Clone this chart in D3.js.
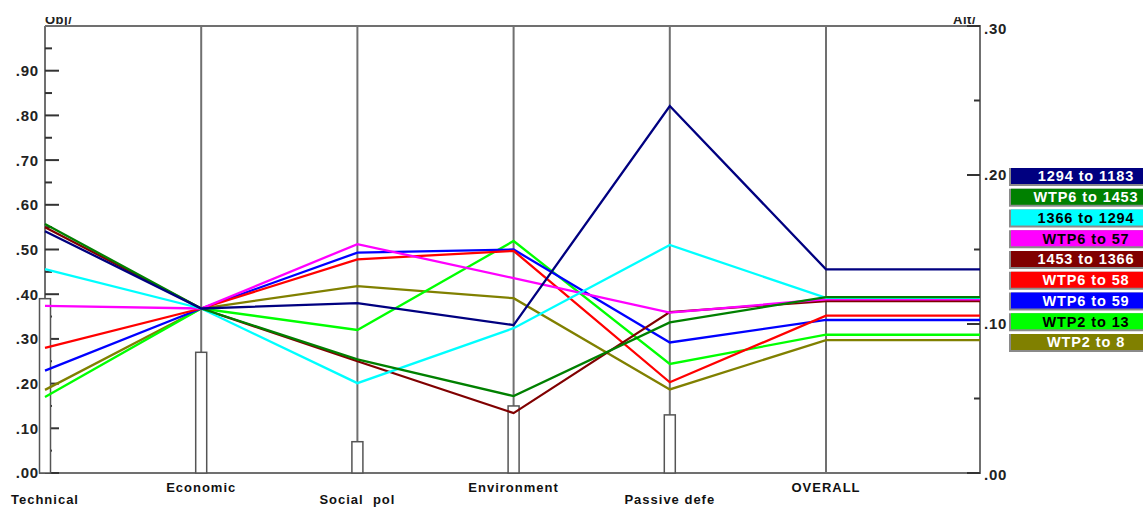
<!DOCTYPE html>
<html>
<head>
<meta charset="utf-8">
<script src="https://cdn.jsdelivr.net/npm/d3@7"></script>
<style>
  html, body { margin: 0; padding: 0; background: #fff; }
  svg { display: block; }
  text { font-family: "Liberation Sans", Arial, sans-serif; font-weight: bold; }
</style>
</head>
<body>
<svg id="chart" width="1143" height="507"></svg>
<script>
// ---- Data ----
const categories = ["Technical", "Economic", "Social  pol", "Environment", "Passive defe", "OVERALL"];
const weights = [0.39, 0.27, 0.07, 0.15, 0.13];           // bar heights on left axis
const seriesNames = ["1294 to 1183", "WTP6 to 1453", "1366 to 1294", "WTP6 to 57", "1453 to 1366",
                     "WTP6 to 58", "WTP6 to 59", "WTP2 to 13", "WTP2 to 8"];
const seriesColors = ["#000080", "#008000", "#00ffff", "#ff00ff", "#800000",
                      "#ff0000", "#0000ff", "#00ff00", "#808000"];
const legendTextColors = ["#fff", "#fff", "#000", "#000", "#fff", "#fff", "#fff", "#000", "#fff"];
// values on each criterion (left axis, 0-1)
const v1294_1183 = [0.541, 0.368, 0.380, 0.331, 0.821];
const vWTP6_1453 = [0.557, 0.368, 0.254, 0.172, 0.337];
const v1366_1294 = [0.456, 0.368, 0.201, 0.324, 0.510];
const vWTP6_57   = [0.374, 0.368, 0.512, 0.436, 0.359];
const v1453_1366 = [0.550, 0.368, 0.250, 0.134, 0.360];
const vWTP6_58   = [0.280, 0.368, 0.478, 0.497, 0.203];
const vWTP6_59   = [0.229, 0.368, 0.493, 0.500, 0.292];
const vWTP2_13   = [0.170, 0.368, 0.320, 0.519, 0.244];
const vWTP2_8    = [0.186, 0.368, 0.418, 0.391, 0.187];
// overall values (right axis, 0-0.30)
const overall = [0.1367, 0.1181, 0.1176, 0.1166, 0.1154, 0.1056, 0.1027, 0.0928, 0.0892];
const leftTicks = [0.00, 0.10, 0.20, 0.30, 0.40, 0.50, 0.60, 0.70, 0.80, 0.90];
const leftMinor = [0.05, 0.15, 0.25, 0.35, 0.45, 0.55, 0.65, 0.75, 0.85, 0.95];
const rightTicks = [0.00, 0.10, 0.20, 0.30];
const rightMinor = [0.05, 0.15, 0.25];

const seriesValues = [v1294_1183, vWTP6_1453, v1366_1294, vWTP6_57, v1453_1366,
                      vWTP6_58, vWTP6_59, vWTP2_13, vWTP2_8];

// ---- Layout ----
const svg = d3.select("#chart");
const yTop = 26, yBottom = 473, xLeft = 45, xRight = 980;
const axisColor = "#707070";

const x = d3.scalePoint().domain(categories).range([45, 826]);
const yL = d3.scaleLinear().domain([0, 1]).range([yBottom, yTop]);
const yR = d3.scaleLinear().domain([0, 0.30]).range([yBottom, yTop]);

const fmt = v => d3.format(".2f")(v).replace(/^0/, "");

// frame lines
svg.append("line").attr("x1", xLeft).attr("x2", xRight).attr("y1", yTop).attr("y2", yTop)
  .attr("stroke", axisColor).attr("stroke-width", 2);
svg.append("line").attr("x1", 39).attr("x2", xRight + 1).attr("y1", yBottom).attr("y2", yBottom)
  .attr("stroke", axisColor).attr("stroke-width", 2);

// category vertical axes
svg.selectAll("line.cat").data(categories).join("line").attr("class", "cat")
  .attr("x1", d => x(d)).attr("x2", d => x(d)).attr("y1", yTop).attr("y2", yBottom)
  .attr("stroke", axisColor).attr("stroke-width", 2);
// right axis
svg.append("line").attr("x1", xRight).attr("x2", xRight).attr("y1", yTop - 1).attr("y2", yBottom + 1)
  .attr("stroke", axisColor).attr("stroke-width", 2);

// left axis ticks
const gL = svg.append("g").attr("transform", `translate(${xLeft},0)`);
gL.selectAll("line.maj").data(leftTicks).join("line").attr("class", "maj")
  .attr("x1", 0).attr("x2", 14).attr("y1", d => yL(d)).attr("y2", d => yL(d))
  .attr("stroke", "#333").attr("stroke-width", 2);
gL.selectAll("line.min").data(leftMinor).join("line").attr("class", "min")
  .attr("x1", 0).attr("x2", 7).attr("y1", d => yL(d)).attr("y2", d => yL(d))
  .attr("stroke", "#333").attr("stroke-width", 2);
gL.selectAll("text").data(leftTicks).join("text")
  .attr("x", -6).attr("y", d => yL(d)).attr("dy", "0.36em")
  .attr("text-anchor", "end").attr("font-size", 15).attr("letter-spacing", 0.8)
  .attr("fill", "#222").text(fmt);

// right axis ticks
const gR = svg.append("g").attr("transform", `translate(${xRight},0)`);
gR.selectAll("line.maj").data(rightTicks).join("line").attr("class", "maj")
  .attr("x1", -13).attr("x2", 0).attr("y1", d => yR(d)).attr("y2", d => yR(d))
  .attr("stroke", "#333").attr("stroke-width", 2);
gR.selectAll("line.min").data(rightMinor).join("line").attr("class", "min")
  .attr("x1", -6).attr("x2", 0).attr("y1", d => yR(d)).attr("y2", d => yR(d))
  .attr("stroke", "#333").attr("stroke-width", 2);
gR.selectAll("text").data(rightTicks).join("text")
  .attr("x", 4).attr("y", d => yR(d)).attr("dy", d => d === 0.30 ? "0.55em" : (d === 0 ? "0.45em" : "0.36em"))
  .attr("text-anchor", "start").attr("font-size", 15).attr("letter-spacing", 0.8)
  .attr("fill", "#222").text(fmt);

// weight bars
svg.selectAll("rect.bar").data(weights).join("rect").attr("class", "bar")
  .attr("x", (d, i) => x(categories[i]) - 5.5).attr("width", 11)
  .attr("y", d => yL(d)).attr("height", d => yBottom - yL(d))
  .attr("fill", "#fff").attr("stroke", "#555").attr("stroke-width", 1.5);

// series lines
const lineGen = d3.line().x(d => d[0]).y(d => d[1]);
const series = seriesNames.map((name, i) => {
  const pts = seriesValues[i].map((v, j) => [x(categories[j]), yL(v)]);
  pts.push([x("OVERALL"), yR(overall[i])]);
  pts.push([xRight, yR(overall[i])]);
  return { name, color: seriesColors[i], pts };
});
svg.append("g").selectAll("path").data(series.slice().reverse()).join("path")
  .attr("d", d => lineGen(d.pts))
  .attr("fill", "none").attr("stroke", d => d.color).attr("stroke-width", 2.3)
  .attr("stroke-linejoin", "miter");

// category labels (alternating rows)
svg.selectAll("text.cat").data(categories).join("text").attr("class", "cat")
  .attr("x", d => x(d)).attr("y", (d, i) => i % 2 === 0 ? 504 : 492)
  .attr("text-anchor", "middle").attr("font-size", 13).attr("letter-spacing", 1)
  .attr("fill", "#111").attr("xml:space", "preserve").style("white-space", "pre").text(d => d);

// clipped corner titles
const defs = svg.append("defs");
defs.append("clipPath").attr("id", "topclip").append("rect")
  .attr("x", 0).attr("y", 17).attr("width", 1143).attr("height", 8);
svg.append("text").attr("clip-path", "url(#topclip)")
  .attr("x", 45).attr("y", 24).attr("font-size", 13).attr("letter-spacing", 0.5)
  .attr("fill", "#222").text("Obj/");
svg.append("text").attr("clip-path", "url(#topclip)")
  .attr("x", 976).attr("y", 24).attr("text-anchor", "end").attr("font-size", 13).attr("letter-spacing", 0.5)
  .attr("fill", "#222").text("Alt/");

// legend
const legY = d3.scalePoint().domain(seriesNames).range([168, 334]);
const leg = svg.append("g").selectAll("g").data(series).join("g")
  .attr("transform", d => `translate(1011,${legY(d.name)})`);
leg.append("rect").attr("x", -2).attr("y", 0).attr("width", 140).attr("height", 18).attr("fill", "#8a8a8a");
leg.append("rect").attr("x", 0).attr("y", 0).attr("width", 140).attr("height", 16).attr("fill", d => d.color);
leg.append("text").attr("x", 75).attr("y", 8).attr("dy", "0.37em")
  .attr("text-anchor", "middle").attr("font-size", 14.5).attr("letter-spacing", 0.9)
  .attr("fill", (d, i) => legendTextColors[i]).text(d => d.name);
</script>
</body>
</html>
